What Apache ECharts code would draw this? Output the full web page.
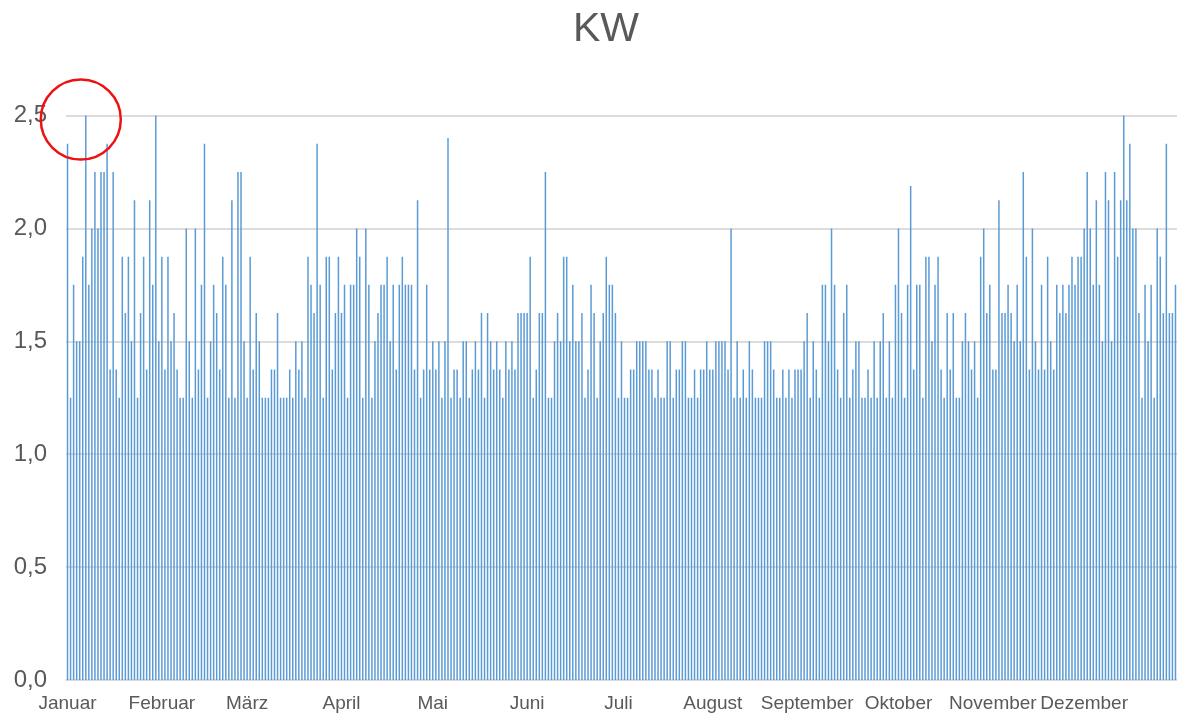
<!DOCTYPE html>
<html>
<head>
    <meta charset="utf-8">
    <title>KW</title>
    <script src="https://cdn.jsdelivr.net/npm/echarts@6/dist/echarts.min.js"></script>
    <style>
        html, body { margin: 0; padding: 0; background: #fff; }
    </style>
</head>
<body>
    <div id="main" style="width: 1177px;height:713px;"></div>
    <script type="text/javascript">
        // Monate und Tage pro Monat
        var monthNames = ["Januar", "Februar", "März", "April", "Mai", "Juni", "Juli", "August", "September", "Oktober", "November", "Dezember"]
        var monthDays = [31, 28, 31, 30, 31, 30, 31, 31, 30, 31, 30, 31]

        // Tageswerte in KW
        var kwJan = [2.375, 1.25, 1.75, 1.5, 1.5, 1.875, 2.5, 1.75, 2.0, 2.25, 2.0, 2.25, 2.25, 2.375, 1.375, 2.25,
            1.375, 1.25, 1.875, 1.625, 1.875, 1.5, 2.125, 1.25, 1.625, 1.875, 1.375, 2.125, 1.75, 2.5, 1.5]
        var kwFebMar = [1.875, 1.375, 1.875, 1.5, 1.625, 1.375, 1.25, 1.25, 2.0, 1.5, 1.25, 2.0, 1.375, 1.75, 2.375,
            1.25, 1.5, 1.75, 1.625, 1.375, 1.875, 1.75, 1.25, 2.125, 1.25, 2.25, 2.25, 1.5, 1.25, 1.875,
            1.375, 1.625, 1.5, 1.25, 1.25, 1.25, 1.375, 1.375, 1.625, 1.25, 1.25, 1.25, 1.375, 1.25, 1.5,
            1.375, 1.5, 1.25, 1.875, 1.75, 1.625, 2.375, 1.75, 1.25, 1.875, 1.875, 1.375, 1.625, 1.875, 1.625,
            1.75, 1.25]
        var kwAprMai = [1.75, 1.75, 2.0, 1.875, 1.25, 2.0, 1.75, 1.25, 1.5, 1.625, 1.75, 1.75, 1.875, 1.5, 1.75,
            1.375, 1.75, 1.875, 1.75, 1.75, 1.75, 1.375, 2.125, 1.25, 1.375, 1.75, 1.375, 1.5, 1.375, 1.5,
            1.25, 1.5, 2.4, 1.25, 1.375, 1.375, 1.25, 1.5, 1.5, 1.25, 1.375, 1.5, 1.375, 1.625, 1.25,
            1.625, 1.5, 1.375, 1.5, 1.375, 1.25, 1.5, 1.375, 1.5, 1.375, 1.625, 1.625, 1.625, 1.625, 1.875,
            1.25, 1.375]
        var kwJunJul = [1.625, 1.625, 2.25, 1.25, 1.25, 1.5, 1.625, 1.5, 1.875, 1.875, 1.5, 1.75, 1.5, 1.5, 1.625,
            1.25, 1.375, 1.75, 1.625, 1.25, 1.5, 1.625, 1.875, 1.75, 1.75, 1.625, 1.25, 1.5, 1.25, 1.25,
            1.375, 1.375, 1.5, 1.5, 1.5, 1.5, 1.375, 1.375, 1.25, 1.375, 1.25, 1.25, 1.5, 1.5, 1.25,
            1.375, 1.375, 1.5, 1.5, 1.25, 1.25, 1.375, 1.25, 1.375, 1.375, 1.5, 1.375, 1.375, 1.5, 1.5,
            1.5, 1.5, 1.375]
        var kwAugSep = [2.0, 1.25, 1.5, 1.25, 1.375, 1.25, 1.5, 1.375, 1.25, 1.25, 1.25, 1.5, 1.5, 1.5, 1.375,
            1.25, 1.25, 1.375, 1.25, 1.375, 1.25, 1.375, 1.375, 1.375, 1.5, 1.625, 1.25, 1.5, 1.375, 1.25,
            1.75, 1.75, 1.5, 2.0, 1.75, 1.375, 1.25, 1.625, 1.75, 1.25, 1.375, 1.5, 1.5, 1.25, 1.25,
            1.375, 1.25, 1.5, 1.25, 1.5, 1.625, 1.25, 1.5, 1.25, 1.75, 2.0, 1.625, 1.25, 1.75, 2.1875,
            1.375]
        var kwOktDez = [1.75, 1.75, 1.25, 1.875, 1.875, 1.5, 1.75, 1.875, 1.375, 1.25, 1.625, 1.375, 1.625, 1.25, 1.25,
            1.5, 1.625, 1.5, 1.375, 1.5, 1.25, 1.875, 2.0, 1.625, 1.75, 1.375, 1.375, 2.125, 1.625, 1.625,
            1.75, 1.625, 1.5, 1.75, 1.5, 2.25, 1.875, 1.375, 2.0, 1.5, 1.375, 1.75, 1.375, 1.875, 1.5,
            1.375, 1.75, 1.625, 1.75, 1.625, 1.75, 1.875, 1.75, 1.875, 1.875, 2.0, 2.25, 2.0, 1.75, 2.125,
            1.75, 1.5, 2.25, 2.125, 1.5, 2.25, 1.875, 2.125, 2.5, 2.125, 2.375, 2.0, 2.0, 1.625, 1.25,
            1.75, 1.5, 1.75, 1.25, 2.0, 1.875, 1.625, 2.375, 1.625, 1.625, 1.75]

        var yTicks = [0, 0.5, 1, 1.5, 2, 2.5]

        var kwValues = [].concat(kwJan, kwFebMar, kwAprMai, kwJunJul, kwAugSep, kwOktDez)

        // Kategorien: jeder Tag des Jahres, Monatsanfang merken
        var days = []
        var monthStart = {}
        monthNames.forEach(function (name, m) {
            monthStart[days.length] = name
            for (var d = 1; d <= monthDays[m]; d++) {
                days.push(d + ". " + name)
            }
        })

        var myChart = echarts.init(document.getElementById("main"))

        var option = {
            animation: false,
            title: {
                text: "KW",
                left: 568,
                top: 4,
                textStyle: {
                    fontFamily: "Liberation Sans",
                    fontSize: 41,
                    fontWeight: "normal",
                    color: "#595959"
                }
            },
            grid: {
                left: 66,
                right: 0,
                top: 115.5,
                bottom: 33
            },
            xAxis: {
                type: "category",
                data: days,
                axisTick: { show: false },
                axisLine: { lineStyle: { color: "#d9d9d9", width: 1.5 } },
                axisLabel: {
                    interval: function (index) {
                        return monthStart[index] !== undefined
                    },
                    formatter: function (value, index) {
                        return monthStart[index] || ""
                    },
                    margin: 14,
                    fontFamily: "Liberation Sans",
                    fontSize: 19,
                    color: "#595959"
                }
            },
            yAxis: {
                type: "value",
                min: yTicks[0],
                max: yTicks[yTicks.length - 1],
                interval: 0.5,
                axisLine: { show: false },
                axisTick: { show: false },
                splitLine: { lineStyle: { color: "#d0d0d0", width: 1.5 } },
                axisLabel: {
                    margin: 19,
                    fontFamily: "Liberation Sans",
                    fontSize: 24,
                    color: "#595959",
                    formatter: function (v) {
                        return v.toFixed(1).replace(".", ",")
                    }
                }
            },
            series: [
                {
                    name: "KW",
                    type: "bar",
                    data: kwValues,
                    barWidth: 1.5,
                    itemStyle: { color: "#5b9bd5" },
                    markPoint: {
                        silent: true,
                        symbol: "circle",
                        symbolSize: 80,
                        symbolOffset: [-5, 4],
                        itemStyle: {
                            color: "rgba(0,0,0,0)",
                            borderColor: "#ee1111",
                            borderWidth: 2.5
                        },
                        label: { show: false },
                        data: [{ coord: [6, 2.5] }]
                    }
                }
            ]
        }

        myChart.setOption(option)
    </script>
</body>
</html>
